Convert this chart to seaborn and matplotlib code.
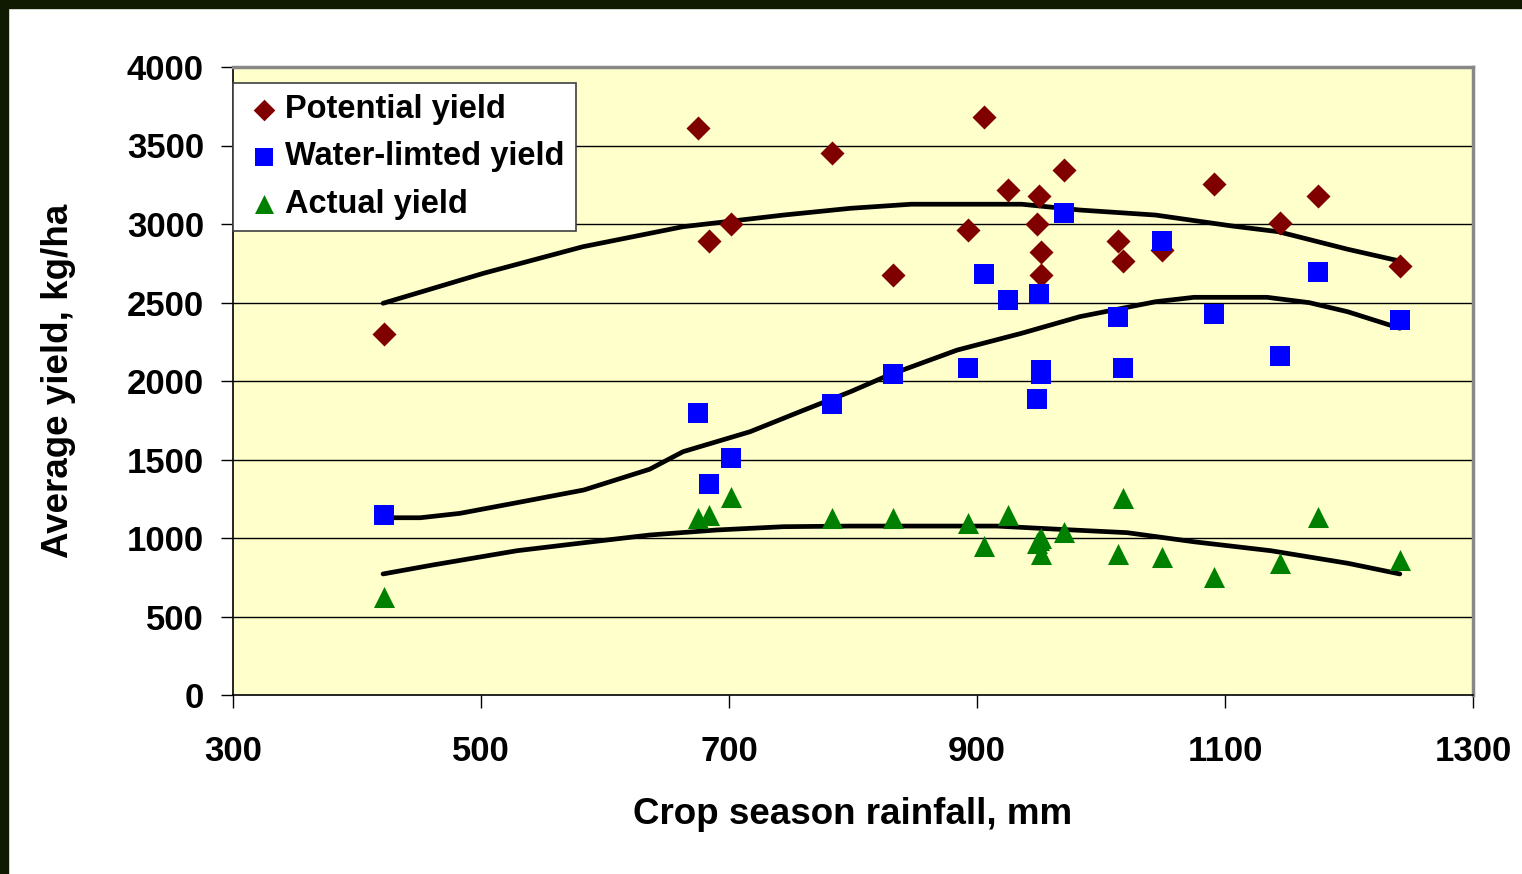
import matplotlib
matplotlib.use("Agg")
import matplotlib.pyplot as plt
from matplotlib.patches import Rectangle
import numpy as np
import pandas as pd
import seaborn as sns

# Lluvia de la campaña (mm) para cada sitio
rainfall = [422, 675, 684, 702, 783, 832, 893, 906, 925, 948, 950,
            952, 952, 970, 1014, 1018, 1049, 1091, 1144, 1175, 1241]

potential = [2300, 3610, 2890, 3000, 3450, 2675, 2960, 3680, 3215, 3000, 3180,
             2820, 2675, 3345, 2890, 2765, 2835, 3255, 3005, 3180, 2730]
water_limited = [1145, 1795, 1345, 1510, 1855, 2045, 2080, 2680, 2515, 1885, 2555,
                 2070, 2045, 3070, 2410, 2080, 2890, 2425, 2160, 2695, 2390]
actual = [625, 1130, 1145, 1260, 1130, 1130, 1095, 950, 1145, 965, 985,
          1000, 895, 1040, 898, 1255, 880, 752, 840, 1134, 860]

# Lineas de tendencia
trend_pot_x = [421, 502, 582, 663, 744, 798, 847, 936, 983, 1044, 1106, 1143, 1199, 1241]
trend_pot_y = [2495, 2686, 2855, 2983, 3057, 3100, 3126, 3126, 3089, 3057, 2987, 2951, 2839, 2764]

trend_wl_x = [421, 451, 483, 529, 583, 636, 663, 717, 757, 798, 829, 884, 936, 983,
              1044, 1075, 1134, 1168, 1199, 1241]
trend_wl_y = [1129, 1129, 1157, 1225, 1306, 1438, 1550, 1677, 1804, 1932, 2038, 2197,
              2304, 2410, 2505, 2533, 2533, 2499, 2441, 2336]

trend_act_x = [421, 461, 529, 583, 636, 690, 744, 798, 916, 962, 1021, 1075, 1137, 1199, 1241]
trend_act_y = [771, 828, 919, 970, 1019, 1051, 1072, 1076, 1076, 1057, 1034, 976, 919, 839, 771]

series_names = ["Potential yield", "Water-limted yield", "Actual yield"]

df = pd.DataFrame({
    "rainfall": rainfall * 3,
    "yield": potential + water_limited + actual,
    "serie": np.repeat(series_names, len(rainfall)),
})

sns.set_style("white")
plt.rcParams["font.family"] = ["Liberation Sans", "DejaVu Sans"]
plt.rcParams["font.weight"] = "bold"
plt.rcParams["text.color"] = "black"
plt.rcParams["axes.labelcolor"] = "black"
plt.rcParams["xtick.color"] = "black"
plt.rcParams["ytick.color"] = "black"

fig = plt.figure(figsize=(15.22, 8.74), dpi=100)
ax = fig.add_axes([233 / 1522, 1 - 695 / 874, 1240 / 1522, 628 / 874])
ax.set_facecolor("#FFFFCC")

# Gridlines horizontales
for v in range(500, 4001, 500):
    ax.axhline(v, color="black", lw=1.0, zorder=1)

for tx, ty in [(trend_pot_x, trend_pot_y), (trend_wl_x, trend_wl_y), (trend_act_x, trend_act_y)]:
    ax.plot(tx, ty, color="black", lw=3.4, solid_capstyle="round", zorder=2)

colores = {"Potential yield": "#800000", "Water-limted yield": "#0000FF", "Actual yield": "#008000"}
marcadores = {"Potential yield": "D", "Water-limted yield": "s", "Actual yield": "^"}
tamanos = {"Potential yield": 150, "Water-limted yield": 220, "Actual yield": 230}

for s in series_names:
    sub = df[df["serie"] == s]
    sns.scatterplot(data=sub, x="rainfall", y="yield", ax=ax, color=colores[s],
                    marker=marcadores[s], s=tamanos[s], linewidth=0, label=s, zorder=3)

ax.set_xlim(300, 1300)
ax.set_ylim(0, 4000)
ax.set_xticks(range(300, 1301, 200))
ax.set_yticks(range(0, 4001, 500))
ax.tick_params(axis="x", labelsize=25, length=9, width=1, direction="out", pad=20, bottom=True, color="black")
ax.tick_params(axis="y", labelsize=25, length=9, width=1, direction="out", pad=12, left=True, color="black")
for lab in ax.get_xticklabels() + ax.get_yticklabels():
    lab.set_fontweight("bold")

ax.set_xlabel("Crop season rainfall, mm", fontsize=26.5, fontweight="bold", labelpad=21)
ax.set_ylabel("Average yield, kg/ha", fontsize=26.5, fontweight="bold")
ax.yaxis.set_label_coords(-0.127, 0.5)

for side in ["top", "right"]:
    ax.spines[side].set_color("#888888")
    ax.spines[side].set_linewidth(2.5)
for side in ["left", "bottom"]:
    ax.spines[side].set_color("black")
    ax.spines[side].set_linewidth(1.2)

leg = ax.legend(loc="upper left", bbox_to_anchor=(0, 0.975), frameon=True, fancybox=False,
                fontsize=23.5, borderpad=0.35, labelspacing=0.5, handletextpad=0.05,
                handlelength=1.2, borderaxespad=0, markerscale=0.9)
leg.get_frame().set_edgecolor("#404040")
leg.get_frame().set_linewidth(1.2)
leg.get_frame().set_facecolor("white")
leg.get_frame().set_alpha(1)
for t in leg.get_texts():
    t.set_fontweight("bold")
    t.set_color("black")

# Marco oscuro superior e izquierdo
fig.patches.append(Rectangle((0, 1 - 8 / 874), 1, 8 / 874, transform=fig.transFigure,
                             color="#0F1A00", zorder=10))
fig.patches.append(Rectangle((0, 0), 8 / 1522, 1, transform=fig.transFigure,
                             color="#0F1A00", zorder=10))

fig.savefig("out.png", dpi=100, facecolor="white")
